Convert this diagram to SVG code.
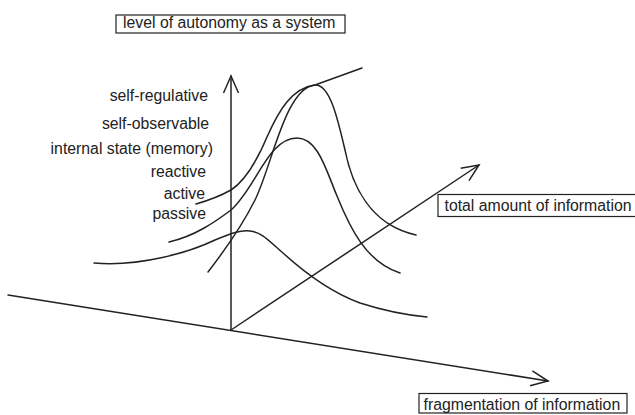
<svg xmlns="http://www.w3.org/2000/svg" width="635" height="415" viewBox="0 0 635 415">
<defs>
<style>
.ln{fill:none;stroke:#222;stroke-width:1.5;stroke-linecap:round;stroke-linejoin:round}
.bx{fill:#fff;stroke:#222;stroke-width:1.2}
.t{font-family:"Liberation Sans",Arial,sans-serif;font-size:15.8px;fill:#222}
.r{text-anchor:end}
</style>
<marker id="ah" viewBox="-1 -1 19 17" refX="17" refY="7.5" markerWidth="19" markerHeight="17" markerUnits="userSpaceOnUse" orient="auto" overflow="visible">
<path d="M0,0 L17,7.5 L0,15" fill="none" stroke="#222" stroke-width="1.5" stroke-linejoin="miter"/>
</marker>
</defs>
<rect width="635" height="415" fill="#fff"/>
<g id="connectors">
<line class="ln" x1="231" y1="330" x2="231" y2="76" marker-end="url(#ah)"/>
<line class="ln" x1="8" y1="295" x2="548" y2="381" marker-end="url(#ah)"/>
<line class="ln" x1="231" y1="330" x2="479" y2="165" marker-end="url(#ah)"/>
<path id="curve-passive" class="ln" d="M94,263 C140,267 190,252 215,240 C232,233 240,230 250,231 C262,232 270,242 283,253 C305,273 330,292 360,303 C385,311 405,315 427,317"/>
<path id="curve-middle" class="ln" d="M169,242 C195,236 215,222 231,210 C256,188 268,138 297,138 C318,138 326,170 337,196 C350,228 366,262 400,273"/>
<path id="curve-inner" class="ln" d="M208,272 C225,250 242,226 255,200 C272,166 285,88 315,85 C330,84 338,120 345,150 C352,185 370,225 416,235"/>
<path id="curve-outer" class="ln" d="M196,204 C210,200 222,195 231,190 C245,181 256,163 267,137 C279,110 292,88 315,85 L362,68"/>
</g>
<g id="label-autonomy">
<rect class="bx" x="116" y="15" width="229" height="18"/>
<text class="t" x="123" y="28">level of autonomy as a system</text>
</g>
<g id="label-total">
<rect class="bx" x="438" y="194.5" width="200" height="22"/>
<text class="t" x="444.5" y="211">total amount of information</text>
</g>
<g id="label-fragmentation">
<rect class="bx" x="419" y="393.5" width="208" height="19.5"/>
<text class="t" x="423.5" y="410">fragmentation of information</text>
</g>
<g id="levels">
<text class="t r" x="208" y="101">self-regulative</text>
<text class="t r" x="209" y="129">self-observable</text>
<text class="t r" x="213" y="154">internal state (memory)</text>
<text class="t r" x="206" y="176.5">reactive</text>
<text class="t r" x="205" y="199">active</text>
<text class="t r" x="206" y="219">passive</text>
</g>
</svg>
